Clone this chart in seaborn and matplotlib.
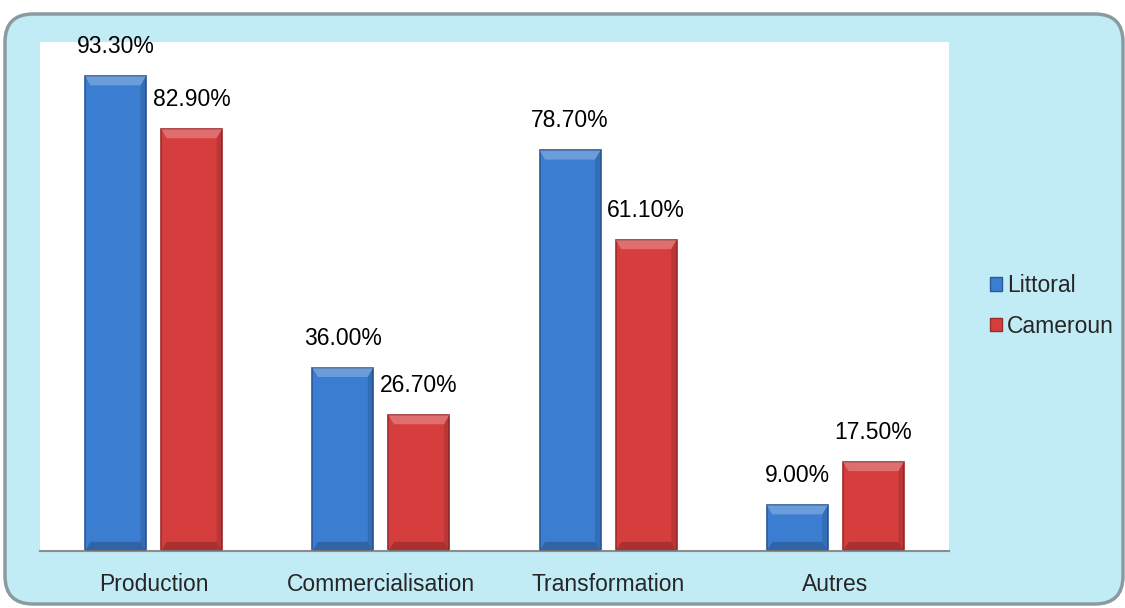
"""
Grouped bar chart: share of activities, Littoral vs Cameroun.
"""

import matplotlib

matplotlib.use("Agg")
import matplotlib.pyplot as plt
from matplotlib.patches import FancyBboxPatch, Polygon
from matplotlib.transforms import IdentityTransform
from matplotlib import font_manager
import seaborn as sns
import pandas as pd

categories = ["Production", "Commercialisation", "Transformation", "Autres"]
littoral = [93.3, 36.0, 78.7, 9.0]
cameroun = [82.9, 26.7, 61.1, 17.5]
series_names = ["Littoral", "Cameroun"]
colors = {"Littoral": "#3B7DD0", "Cameroun": "#D63E3E"}
edge_colors = {"Littoral": "#2A5A99", "Cameroun": "#9C2B2B"}

df = pd.DataFrame(
    {
        "categorie": categories * 2,
        "serie": [series_names[0]] * len(categories) + [series_names[1]] * len(categories),
        "valeur": littoral + cameroun,
    }
)

sns.set_style("white")
names = {f.name for f in font_manager.fontManager.ttflist}
if "Liberation Sans Narrow" in names:
    plt.rcParams["font.family"] = ["Liberation Sans Narrow", "DejaVu Sans"]
    fsize = 19
else:
    plt.rcParams["font.family"] = ["Liberation Sans", "DejaVu Sans"]
    fsize = 16.5

fig = plt.figure(figsize=(11.25, 6.08), dpi=100)
fig.patch.set_facecolor("white")

# rounded light blue panel behind everything
panel = FancyBboxPatch(
    (5, 4), 1118, 590,
    boxstyle="round,pad=0,rounding_size=28",
    transform=IdentityTransform(),
    facecolor="#C1EBF5", edgecolor="#8A9BA0", linewidth=2.5, zorder=-10,
)
fig.patches.append(panel)

ax = fig.add_axes([40 / 1125, 57 / 608, 909 / 1125, 509 / 608])
ax.set_zorder(1)
ax.set_facecolor("white")

sns.barplot(
    data=df, x="categorie", y="valeur", hue="serie",
    order=categories, hue_order=series_names,
    palette=colors, width=0.67, gap=0.2, ax=ax,
    saturation=1, legend=True,
)

# darker edges + simple bevel on each bar
for container, name in zip(ax.containers, series_names):
    for bar in container:
        bar.set_edgecolor(edge_colors[name])
        bar.set_linewidth(1.2)
        x, y = bar.get_x(), bar.get_y()
        w, h = bar.get_width(), bar.get_height()
        bw, bh = w * 0.09, min(1.8, h * 0.3)
        top = Polygon(
            [(x, y + h), (x + w, y + h), (x + w - bw, y + h - bh), (x + bw, y + h - bh)],
            closed=True, facecolor="white", alpha=0.25, linewidth=0, zorder=3,
        )
        bottom = Polygon(
            [(x, y), (x + w, y), (x + w - bw, y + bh), (x + bw, y + bh)],
            closed=True, facecolor="black", alpha=0.2, linewidth=0, zorder=3,
        )
        right = Polygon(
            [(x + w, y), (x + w, y + h), (x + w - bw, y + h - bh), (x + w - bw, y + bh)],
            closed=True, facecolor="black", alpha=0.12, linewidth=0, zorder=3,
        )
        for p in (top, bottom, right):
            ax.add_patch(p)
    ax.bar_label(container, fmt="{:.2f}%", padding=13, fontsize=fsize, color="black")

ax.set_ylim(0, 100)
ax.set_xlim(-0.5, len(categories) - 0.5)
ax.set_xlabel("")
ax.set_ylabel("")
ax.set_yticks([])
ax.tick_params(axis="x", length=0, labelsize=fsize, pad=16)
for side in ["top", "left", "right"]:
    ax.spines[side].set_visible(False)
ax.spines["bottom"].set_color("#8C8C8C")
ax.spines["bottom"].set_linewidth(1.5)

leg = ax.legend(
    loc="center left", bbox_to_anchor=(969 / 1125, 302 / 608),
    bbox_transform=fig.transFigure, frameon=False, fontsize=fsize,
    handlelength=0.55, handleheight=0.55, handletextpad=0.2, labelspacing=0.75,
)
for handle, name in zip(leg.legend_handles, series_names):
    handle.set_edgecolor(edge_colors[name])

fig.savefig("out.png", dpi=100, facecolor=fig.get_facecolor())
